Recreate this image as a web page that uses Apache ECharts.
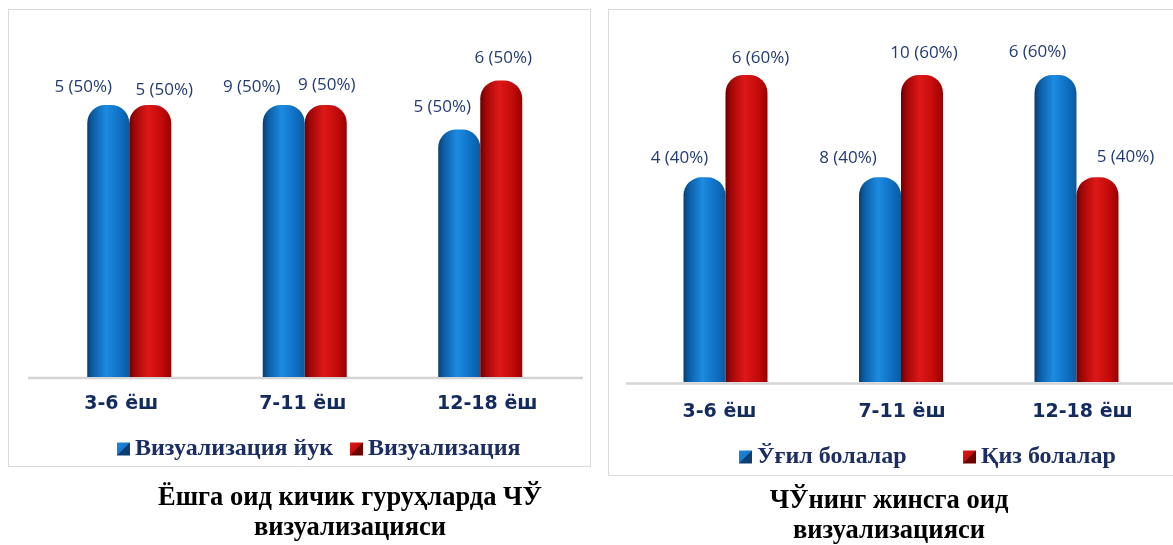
<!DOCTYPE html>
<html>
<head>
<meta charset="utf-8">
<script src="https://cdn.jsdelivr.net/npm/echarts@6/dist/echarts.min.js"></script>
<style>
  html, body { margin: 0; padding: 0; background: #ffffff; }
  #chart { width: 1173px; height: 545px; }
</style>
</head>
<body>
<div id="chart"></div>
<script>
// ---------- DATA ----------
const categories = ['3-6 ёш', '7-11 ёш', '12-18 ёш'];

// Left panel: age groups, visualization
const leftSeriesNames = ['Визуализация йук', 'Визуализация'];
const noVisHeight = [50, 50, 45.5];
const visHeight = [50, 50, 54.5];
const noVisLabels = ['5 (50%)', '9 (50%)', '5 (50%)'];
const visLabels = ['5 (50%)', '9 (50%)', '6 (50%)'];

// Right panel: gender
const rightSeriesNames = ['Ўғил болалар', 'Қиз болалар'];
const boysHeight = [40, 40, 60];
const girlsHeight = [60, 60, 40];
const boysLabels = ['4 (40%)', '8 (40%)', '6 (60%)'];
const girlsLabels = ['6 (60%)', '10 (60%)', '5 (40%)'];

const leftTitle = 'Ёшга оид кичик гуруҳларда ЧЎ\nвизуализацияси';
const rightTitle = 'ЧЎнинг жинсга оид\nвизуализацияси';

// ---------- STYLE ----------
const LABEL_COLOR = '#233B73';
const AXIS_COLOR = '#142B5F';
const LEGEND_COLOR = '#1B2D62';

const blueGrad = new echarts.graphic.LinearGradient(0, 0, 1, 0, [
  { offset: 0, color: '#0A3D6E' },
  { offset: 0.12, color: '#0B5CA3' },
  { offset: 0.45, color: '#1C8BE0' },
  { offset: 0.75, color: '#0F72C6' },
  { offset: 1, color: '#0B5A9F' }
]);
const redGrad = new echarts.graphic.LinearGradient(0, 0, 1, 0, [
  { offset: 0, color: '#6A0000' },
  { offset: 0.12, color: '#9E0606' },
  { offset: 0.45, color: '#DE1818' },
  { offset: 0.78, color: '#C20A0A' },
  { offset: 1, color: '#990000' }
]);
const blueIcon = new echarts.graphic.LinearGradient(0, 0, 1, 1, [
  { offset: 0, color: '#1E8AE0' }, { offset: 0.5, color: '#1577C9' },
  { offset: 0.5, color: '#0B3F72' }, { offset: 1, color: '#0B3F72' }
]);
const redIcon = new echarts.graphic.LinearGradient(0, 0, 1, 1, [
  { offset: 0, color: '#E01A1A' }, { offset: 0.5, color: '#C40C0C' },
  { offset: 0.5, color: '#6E0000' }, { offset: 1, color: '#6E0000' }
]);

// label nudges [dx, px above bar top] per category (manual placement as in the source)
const nudgeLeftA = [[-25, 18], [-32, 18], [-17, 22]];
const nudgeLeftB = [[14, 15], [1, 20], [2, 22]];
const nudgeRightA = [[-25, 19], [-32, 19], [-18, 23]];
const nudgeRightB = [[14, 17], [2, 22], [28, 20]];
// horizontal shift of category labels (px) relative to group centre
const catShiftLeft = [-8, -2, 7];
const catShiftRight = [-6, 1, 6];

const LABEL_FS = 17;

function makeData(values, labels, nudges) {
  return values.map((v, i) => ({
    value: v,
    label: {
      formatter: labels[i],
      offset: [nudges[i][0], -(nudges[i][1] - LABEL_FS / 2)]
    }
  }));
}

function barSeries(name, values, labels, nudges, grad, axisIdx) {
  return {
    type: 'bar',
    name: name,
    xAxisIndex: axisIdx,
    yAxisIndex: axisIdx,
    barWidth: 42,
    barGap: '0%',
    data: makeData(values, labels, nudges),
    itemStyle: { color: grad, borderRadius: [18, 18, 0, 0] },
    label: {
      show: true,
      position: 'top',
      distance: 0,
      color: LABEL_COLOR,
      fontFamily: 'Open Sans',
      fontSize: LABEL_FS,
      lineHeight: LABEL_FS
    },
    emphasis: { disabled: true }
  };
}

const catTextStyle = {
  color: AXIS_COLOR,
  fontFamily: 'DejaVu Sans',
  fontWeight: 'bold',
  fontSize: 19,
  lineHeight: 19
};

function catAxis(gridIndex, margin, shifts) {
  const rich = {};
  shifts.forEach((s, i) => {
    rich['c' + i] = Object.assign({}, catTextStyle, {
      padding: s < 0 ? [0, -2 * s, 0, 0] : [0, 0, 0, 2 * s]
    });
  });
  return {
    type: 'category',
    gridIndex: gridIndex,
    data: categories,
    axisLine: { show: false },
    axisTick: { show: false },
    axisLabel: Object.assign({
      margin: margin,
      interval: 0,
      hideOverlap: false,
      formatter: (val, idx) => '{c' + idx + '|' + val + '}',
      rich: rich
    }, catTextStyle)
  };
}
function valAxis(gridIndex) {
  return {
    type: 'value',
    gridIndex: gridIndex,
    min: 0,
    max: 60,
    show: false,
    splitLine: { show: false }
  };
}

function legendItem(name, icon, left, top) {
  return {
    data: [{ name: name, itemStyle: { color: icon } }],
    left: left,
    top: top,
    icon: 'rect',
    itemWidth: 13,
    itemHeight: 13,
    itemGap: 0,
    itemStyle: { color: icon },
    selectedMode: false,
    textStyle: {
      color: LEGEND_COLOR,
      fontFamily: 'Liberation Serif',
      fontWeight: 'bold',
      fontSize: 24,
      lineHeight: 24,
      padding: [0, 0, 0, 0]
    },
    itemTextGap: 4,
    padding: 0
  };
}

const chart = echarts.init(document.getElementById('chart'), null, { renderer: 'canvas' });

const titleStyle = { fontFamily: 'Liberation Serif', fontWeight: 'bold', fontSize: 26.5, lineHeight: 30, color: '#000' };

const option = {
  backgroundColor: '#ffffff',
  animation: false,
  title: [
    { text: leftTitle, left: 350, top: 483, textAlign: 'center', padding: 0, textStyle: titleStyle },
    { text: rightTitle, left: 889, top: 486, textAlign: 'center', padding: 0, textStyle: titleStyle }
  ],
  grid: [
    { left: 41.5, width: 526.5, top: 50.6, height: 326.4, containLabel: false },
    { left: 637.75, width: 526.5, top: 75, height: 307, containLabel: false }
  ],
  xAxis: [catAxis(0, 18, catShiftLeft), catAxis(1, 21, catShiftRight)],
  yAxis: [valAxis(0), valAxis(1)],
  legend: [
    legendItem(leftSeriesNames[0], blueIcon, 117, 437),
    legendItem(leftSeriesNames[1], redIcon, 350, 437),
    legendItem(rightSeriesNames[0], blueIcon, 739, 445),
    legendItem(rightSeriesNames[1], redIcon, 963, 445)
  ],
  graphic: [
    { type: 'rect', silent: true, z: -1,
      shape: { x: 8.5, y: 9.5, width: 582, height: 457 },
      style: { fill: 'none', stroke: '#D9D9D9', lineWidth: 1 } },
    { type: 'rect', silent: true, z: -1,
      shape: { x: 608.5, y: 9.5, width: 600, height: 466 },
      style: { fill: 'none', stroke: '#D9D9D9', lineWidth: 1 } },
    { type: 'line', silent: true, z: 0,
      shape: { x1: 28, y1: 378, x2: 583, y2: 378 },
      style: { stroke: '#D4D4D4', lineWidth: 2.5 } },
    { type: 'line', silent: true, z: 0,
      shape: { x1: 626, y1: 383.5, x2: 1173, y2: 383.5 },
      style: { stroke: '#D4D4D4', lineWidth: 2.5 } }
  ],
  series: [
    barSeries(leftSeriesNames[0], noVisHeight, noVisLabels, nudgeLeftA, blueGrad, 0),
    barSeries(leftSeriesNames[1], visHeight, visLabels, nudgeLeftB, redGrad, 0),
    barSeries(rightSeriesNames[0], boysHeight, boysLabels, nudgeRightA, blueGrad, 1),
    barSeries(rightSeriesNames[1], girlsHeight, girlsLabels, nudgeRightB, redGrad, 1)
  ]
};

chart.setOption(option);
</script>
</body>
</html>
